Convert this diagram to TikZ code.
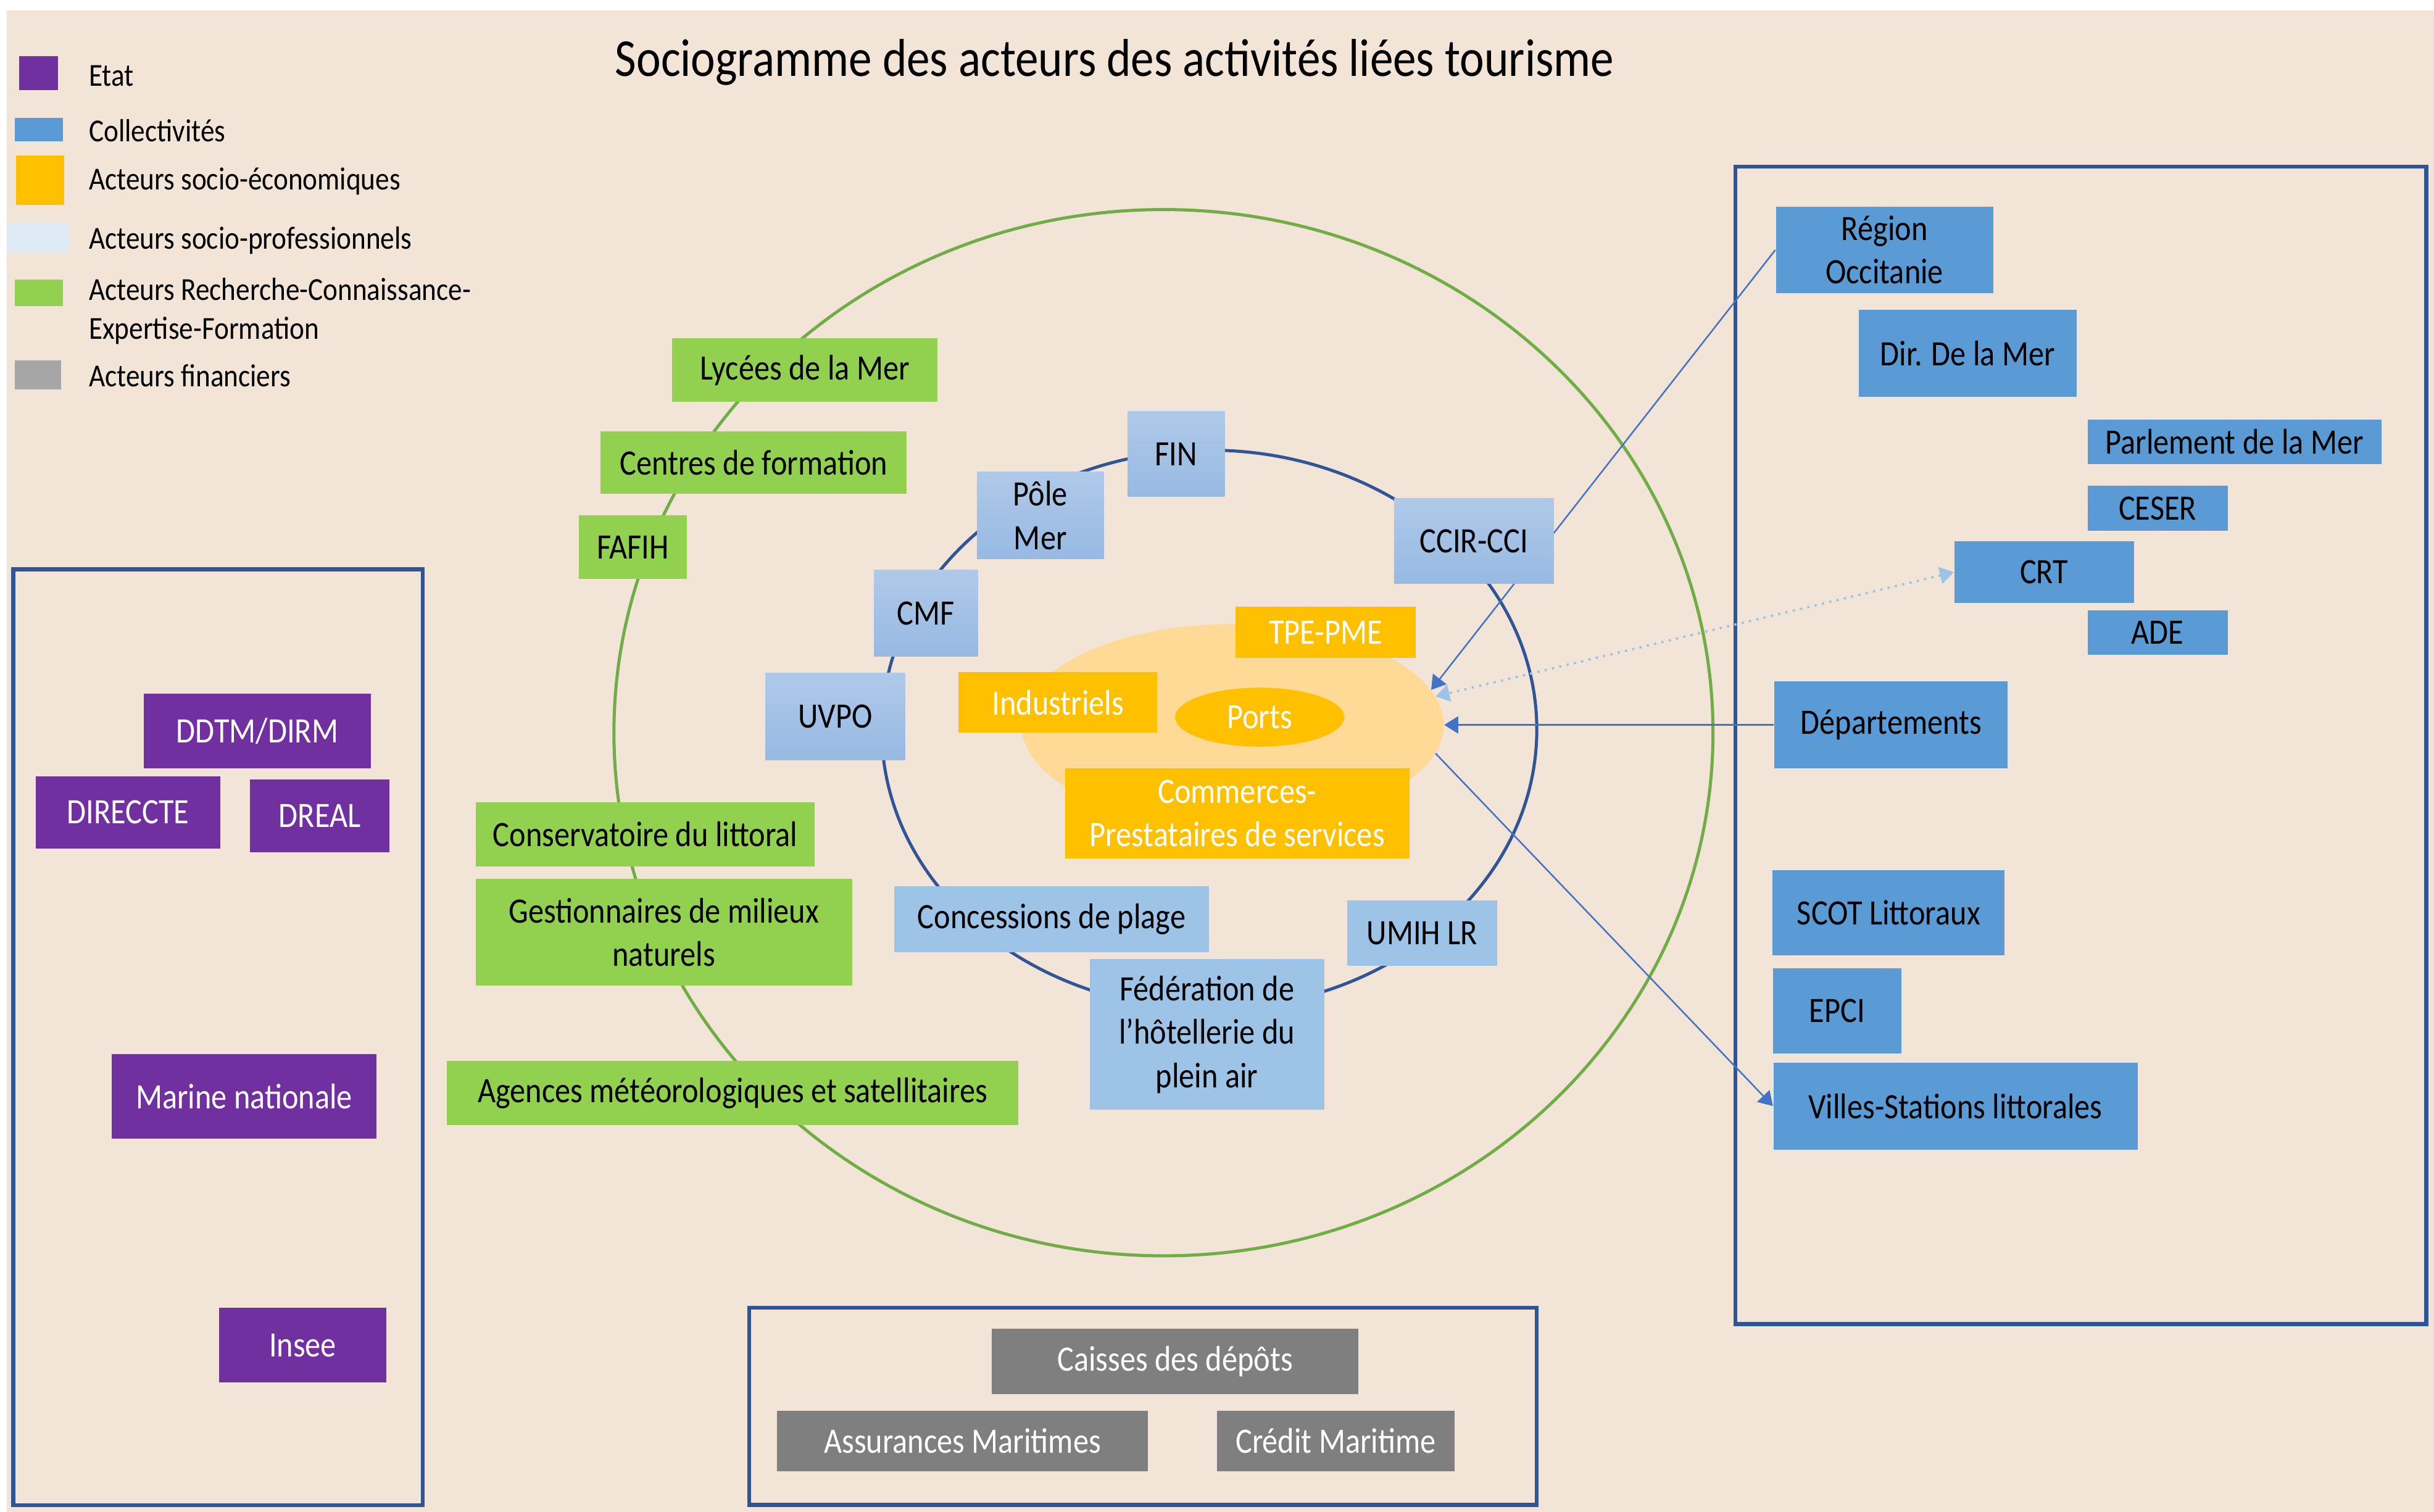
\documentclass[tikz,border=0pt]{standalone}
\usepackage{fontspec}
\setmainfont{Carlito}[FakeStretch=0.87]
\usepackage{xcolor}
\usepackage{tikz}
\usetikzlibrary{calc,shapes.geometric,arrows.meta}

\definecolor{fond}{HTML}{F2E5D8}
\definecolor{etatviolet}{HTML}{7030A0}
\definecolor{collbleu}{HTML}{5B9BD5}
\definecolor{ecojaune}{HTML}{FFC000}
\definecolor{probleu}{HTML}{DEEBF7}
\definecolor{prohaut}{HTML}{AFC9E9}
\definecolor{probas}{HTML}{97B9E2}
\definecolor{proplat}{HTML}{9DC3E6}
\definecolor{rechvert}{HTML}{92D050}
\definecolor{fingris}{HTML}{7F7F7F}
\definecolor{legris}{HTML}{A6A6A6}
\definecolor{cadre}{HTML}{2F5597}
\definecolor{cerclevert}{HTML}{70AD47}
\definecolor{noyau}{HTML}{FFD996}
\definecolor{fleche}{HTML}{4472C4}

\newcommand{\boxfont}{\fontsize{13.8}{16.8}\selectfont}
\newcommand{\legfont}{\fontsize{12.4}{15}\selectfont}
\newcommand{\titlefont}{\fontsize{20.6}{24}\selectfont}

\begin{document}
\begin{tikzpicture}[x=0.6pt,y=-0.6pt,
    sz/.style 2 args={rectangle,inner sep=0pt,align=center,font=\boxfont,
      minimum width=#1*0.6pt,minimum height=#2*0.6pt},
    etat/.style={fill=etatviolet,text=white},
    coll/.style={fill=collbleu},
    eco/.style={fill=ecojaune,text=white},
    pro/.style={top color=prohaut,bottom color=probas},
    proflat/.style={fill=proplat},
    rech/.style={fill=rechvert},
    fina/.style={fill=fingris,text=white},
    cadrebox/.style={draw=cadre,line width=1.5pt},
    arrow/.style={draw=fleche,line width=0.6pt,-{Triangle[length=5.4pt,width=6.6pt]}},
    dotarrow/.style={draw=proplat,line width=0.9pt,dotted,
      {Triangle[length=5.4pt,width=6.6pt]}-{Triangle[length=5.4pt,width=6.6pt]}},
    legtext/.style={anchor=west,inner sep=0pt,font=\legfont,align=left}]

  % Page and background
  \useasboundingbox (0,0) rectangle (1568,974);
  \fill[white] (0,0) rectangle (1568,974);
  \fill[fond] (4.4,6.6) rectangle (1568,974);

  % Draw frames
  \draw[cadrebox] (8.6,366.8) rectangle (272.4,969.7);
  \draw[cadrebox] (1118,107.4) rectangle (1563,853);
  \draw[cadrebox] (482.5,842.5) rectangle (990,969.5);

  % Draw circles
  \draw[cerclevert,line width=1.2pt] (749.5,472) ellipse [x radius=354, y radius=337];
  \draw[cadre,line width=1.2pt] (779,470) ellipse [x radius=211, y radius=180];
  \node[ellipse,fill=noyau,inner sep=0pt,minimum width=272*0.6pt,minimum height=130*0.6pt] (pole) at (794,467) {};

  % Collectivities
  \node[sz={140}{56},coll] (region) at (1214,161) {Région\\Occitanie};
  \node[sz={140}{56},coll] (dirmer) at (1267.6,227.6) {Dir. De la Mer};
  \node[sz={189.2}{28.6},coll] (parlement) at (1439.4,284.7) {Parlement de la Mer};
  \node[sz={90.2}{29},coll] (ceser) at (1389.9,327.5) {CESER};
  \node[sz={115.6}{39.8},coll] (crt) at (1316.8,368.6) {CRT};
  \node[sz={90.2}{29},coll] (ade) at (1389.9,407.5) {ADE};
  \node[sz={150.5}{56},coll] (dep) at (1218.2,467) {Départements};
  \node[sz={149.5}{55},coll] (scot) at (1216.7,588) {SCOT Littoraux};
  \node[sz={83}{54.7},coll] (epci) at (1183.5,651.3) {EPCI};
  \node[sz={234.5}{56},coll] (villes) at (1259.7,712.5) {Villes-Stations littorales};

  % Draw links
  \draw[arrow] (region.west) -- (pole.10);
  \draw[dotarrow] (crt.west) -- (pole.8);
  \draw[arrow] (dep.west) -- (pole.east);
  \draw[arrow] (pole.-8) -- (villes.west);

  % Socio-professionals
  \node[sz={62.5}{55},pro] (fin) at (757.7,292.5) {FIN};
  \node[sz={81.5}{56},pro] (polemer) at (670.2,332) {Pôle\\Mer};
  \node[sz={103}{55},pro] (ccir) at (949.5,348.5) {CCIR-CCI};
  \node[sz={67}{56},pro] (cmf) at (596.5,395) {CMF};
  \node[sz={90}{56},pro] (uvpo) at (538,461.5) {UVPO};
  \node[sz={203}{42.5},proflat] (concess) at (677.5,592.2) {Concessions de plage};
  \node[sz={96.5}{42},proflat] (umih) at (916.2,601) {UMIH LR};
  \node[sz={151}{97},proflat] (federation) at (777.5,666.5) {Fédération de\\l’hôtellerie du\\plein air};

  % Socio-economic actors
  \node[sz={116}{33},eco] (tpe) at (854,407.5) {TPE-PME};
  \node[sz={128}{39},eco] (indus) at (681.5,452.5) {Industriels};
  \node[ellipse,eco,inner sep=0pt,font=\boxfont,minimum width=109*0.6pt,minimum height=38*0.6pt] (ports) at (811.5,462) {Ports};
  \node[sz={222}{58},eco] (commerces) at (797,524) {Commerces-\\Prestataires de services};

  % Research, knowledge, training
  \node[sz={171}{41},rech] (lycees) at (518.5,238.5) {Lycées de la Mer};
  \node[sz={197}{40},rech] (centres) at (485.5,298) {Centres de formation};
  \node[sz={69.5}{41},rech] (fafih) at (407.7,352.5) {FAFIH};
  \node[sz={218.5}{41},rech] (conserv) at (415.7,537.5) {Conservatoire du littoral};
  \node[sz={242.5}{69},rech] (gestion) at (427.7,600.5) {Gestionnaires de milieux\\naturels};
  \node[sz={368}{41.5},rech] (agences) at (472,704.2) {Agences météorologiques et satellitaires};

  % State
  \node[sz={146.3}{48},etat] (ddtm) at (165.8,471) {DDTM/DIRM};
  \node[sz={119}{46.5},etat] (direccte) at (82.5,523.2) {DIRECCTE};
  \node[sz={90}{47},etat] (dreal) at (206,525.5) {DREAL};
  \node[sz={170.6}{54.6},etat] (marine) at (157.3,706.3) {Marine nationale};
  \node[sz={108}{48.2},etat] (insee) at (195,866.6) {Insee};

  % Financial actors
  \node[sz={236}{42},fina] (caisses) at (757,877) {Caisses des dépôts};
  \node[sz={239}{38.6},fina] (assur) at (620,928.3) {Assurances Maritimes};
  \node[sz={153}{38.6},fina] (credit) at (860.5,928.3) {Crédit Maritime};

  % Legend
  \node[sz={25}{22},fill=etatviolet] (lgEtat) at (24.9,47) {};
  \node[sz={31}{15},fill=collbleu] (lgColl) at (25.1,83.5) {};
  \node[sz={31}{32},fill=ecojaune] (lgEco) at (25.9,116) {};
  \node[sz={39.4}{19},fill=probleu] (lgPro) at (24.3,153.5) {};
  \node[sz={31}{17},fill=rechvert] (lgRech) at (25.1,188.5) {};
  \node[sz={29.7}{19},fill=legris] (lgFin) at (24.5,241.5) {};
  \node[legtext] (tEtat) at (57,49) {Etat};
  \node[legtext] (tColl) at (57,84) {Collectivités};
  \node[legtext] (tEco) at (57,117) {Acteurs socio-économiques};
  \node[legtext] (tPro) at (57,155) {Acteurs socio-professionnels};
  \node[legtext] (tRech) at (57,200.5) {Acteurs Recherche-Connaissance-\\Expertise-Formation};
  \node[legtext] (tFin) at (57,242) {Acteurs financiers};

  % Title
  \node[font=\titlefont] (titre) at (718,40) {Sociogramme des acteurs des activités liées tourisme};
\end{tikzpicture}
\end{document}
